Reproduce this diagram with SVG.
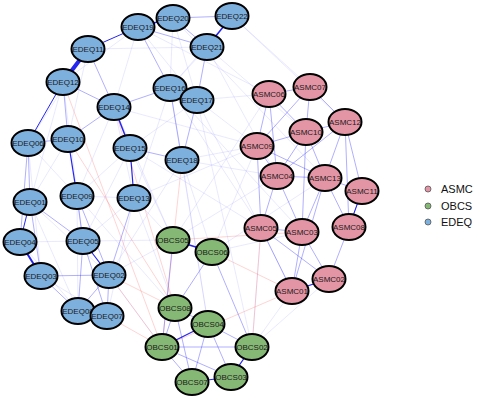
<svg xmlns="http://www.w3.org/2000/svg" width="480" height="398" viewBox="0 0 480 398">
<style>
.n ellipse{stroke:#000;stroke-width:2}
.E ellipse{fill:#7db0dd}
.O ellipse{fill:#86b875}
.A ellipse{fill:#e495a5}
.n text{font-family:"Liberation Sans",Arial,sans-serif;font-size:8px;fill:#1a1a1a;text-anchor:middle}
#edges line{stroke-linecap:round}
.s{stroke:#0000ee;stroke-opacity:.85}
.m{stroke:#3a3aff;stroke-opacity:.4;stroke-width:1}
.f{stroke:#7777ff;stroke-opacity:.18;stroke-width:.9}
.r{stroke:#ff5050;stroke-opacity:.28;stroke-width:.9}
.lg text{font-family:"Liberation Sans",Arial,sans-serif;font-size:11px;fill:#111}
.lg circle{stroke:#555;stroke-width:.8}
</style>
<rect width="480" height="398" fill="#fff"/>
<g id="edges">
<!-- faint -->
<line class="f" x1="138" y1="27" x2="269" y2="94"/>
<line class="f" x1="232" y1="16" x2="310" y2="87"/>
<line class="f" x1="197" y1="100" x2="257" y2="146"/>
<line class="f" x1="207" y1="47" x2="306" y2="132"/>
<line class="f" x1="114" y1="107" x2="173" y2="240"/>
<line class="f" x1="182" y1="160" x2="212" y2="252"/>
<line class="f" x1="134" y1="198" x2="173" y2="240"/>
<line class="f" x1="130" y1="148" x2="173" y2="240"/>
<line class="f" x1="170" y1="88" x2="261" y2="228"/>
<line class="f" x1="197" y1="100" x2="252" y2="347"/>
<line class="f" x1="182" y1="160" x2="277" y2="176"/>
<line class="f" x1="63" y1="82" x2="83" y2="241"/>
<line class="f" x1="88" y1="49" x2="68" y2="139"/>
<line class="f" x1="138" y1="27" x2="114" y2="107"/>
<line class="f" x1="138" y1="27" x2="197" y2="100"/>
<line class="f" x1="173" y1="18" x2="197" y2="100"/>
<line class="f" x1="232" y1="16" x2="170" y2="88"/>
<line class="f" x1="207" y1="47" x2="170" y2="88"/>
<line class="f" x1="114" y1="107" x2="134" y2="198"/>
<line class="f" x1="114" y1="107" x2="77" y2="196"/>
<line class="f" x1="68" y1="139" x2="30" y2="202"/>
<line class="f" x1="68" y1="139" x2="83" y2="241"/>
<line class="f" x1="130" y1="148" x2="77" y2="196"/>
<line class="f" x1="130" y1="148" x2="83" y2="241"/>
<line class="f" x1="28" y1="143" x2="77" y2="196"/>
<line class="f" x1="28" y1="143" x2="41" y2="276"/>
<line class="f" x1="77" y1="196" x2="134" y2="198"/>
<line class="f" x1="134" y1="198" x2="83" y2="241"/>
<line class="f" x1="134" y1="198" x2="107" y2="316"/>
<line class="f" x1="30" y1="202" x2="109" y2="275"/>
<line class="f" x1="20" y1="242" x2="83" y2="241"/>
<line class="f" x1="20" y1="242" x2="78" y2="311"/>
<line class="f" x1="77" y1="196" x2="78" y2="311"/>
<line class="f" x1="182" y1="160" x2="109" y2="275"/>
<line class="f" x1="170" y1="88" x2="134" y2="198"/>
<line class="f" x1="197" y1="100" x2="130" y2="148"/>
<line class="f" x1="63" y1="82" x2="30" y2="202"/>
<line class="f" x1="88" y1="49" x2="28" y2="143"/>
<line class="f" x1="182" y1="160" x2="257" y2="146"/>
<line class="f" x1="197" y1="100" x2="269" y2="94"/>
<line class="f" x1="269" y1="94" x2="173" y2="240"/>
<line class="f" x1="257" y1="146" x2="212" y2="252"/>
<line class="f" x1="261" y1="228" x2="252" y2="347"/>
<line class="f" x1="292" y1="291" x2="252" y2="347"/>
<line class="f" x1="302" y1="232" x2="212" y2="252"/>
<line class="f" x1="257" y1="146" x2="134" y2="198"/>
<line class="f" x1="207" y1="47" x2="277" y2="176"/>
<line class="f" x1="232" y1="16" x2="345" y2="122"/>
<line class="f" x1="173" y1="18" x2="325" y2="178"/>
<line class="f" x1="170" y1="88" x2="208" y2="324"/>
<line class="f" x1="197" y1="100" x2="292" y2="291"/>
<line class="f" x1="109" y1="275" x2="173" y2="240"/>
<line class="f" x1="83" y1="241" x2="173" y2="240"/>
<line class="f" x1="134" y1="198" x2="175" y2="308"/>
<line class="f" x1="138" y1="27" x2="63" y2="82"/>
<line class="f" x1="173" y1="18" x2="170" y2="88"/>
<line class="f" x1="77" y1="196" x2="175" y2="308"/>
<line class="f" x1="130" y1="148" x2="261" y2="228"/>
<line class="f" x1="114" y1="107" x2="257" y2="146"/>
<line class="f" x1="88" y1="49" x2="207" y2="47"/>
<line class="f" x1="170" y1="88" x2="302" y2="232"/>
<line class="f" x1="212" y1="252" x2="325" y2="178"/>
<line class="f" x1="173" y1="240" x2="277" y2="176"/>
<line class="f" x1="252" y1="347" x2="329" y2="279"/>
<line class="f" x1="41" y1="276" x2="107" y2="316"/>
<line class="f" x1="30" y1="202" x2="78" y2="311"/>
<line class="f" x1="109" y1="275" x2="162" y2="347"/>
<line class="f" x1="182" y1="160" x2="208" y2="324"/>
<!-- red -->
<line class="r" x1="109" y1="275" x2="162" y2="347"/>
<line class="r" x1="109" y1="275" x2="175" y2="308"/>
<line class="r" x1="63" y1="82" x2="162" y2="347"/>
<line class="r" x1="114" y1="107" x2="175" y2="308"/>
<line class="r" x1="182" y1="160" x2="162" y2="347"/>
<line class="r" x1="212" y1="252" x2="292" y2="291"/>
<line class="r" x1="252" y1="347" x2="261" y2="228"/>
<line class="r" x1="107" y1="316" x2="162" y2="347"/>
<line class="r" x1="162" y1="347" x2="292" y2="291"/>
<line class="r" x1="68" y1="139" x2="175" y2="308"/>
<line class="r" x1="173" y1="240" x2="302" y2="232"/>
<!-- medium -->
<line class="m" x1="173" y1="18" x2="207" y2="47"/>
<line class="m" x1="173" y1="18" x2="232" y2="16"/>
<line class="m" x1="138" y1="27" x2="207" y2="47"/>
<line class="m" x1="63" y1="82" x2="68" y2="139"/>
<line class="m" x1="63" y1="82" x2="114" y2="107"/>
<line class="m" x1="138" y1="27" x2="170" y2="88"/>
<line class="m" x1="207" y1="47" x2="197" y2="100"/>
<line class="m" x1="170" y1="88" x2="182" y2="160"/>
<line class="m" x1="197" y1="100" x2="182" y2="160"/>
<line class="m" x1="130" y1="148" x2="182" y2="160"/>
<line class="m" x1="28" y1="143" x2="30" y2="202"/>
<line class="m" x1="28" y1="143" x2="20" y2="242"/>
<line class="m" x1="68" y1="139" x2="28" y2="143"/>
<line class="m" x1="77" y1="196" x2="83" y2="241"/>
<line class="m" x1="30" y1="202" x2="41" y2="276"/>
<line class="m" x1="30" y1="202" x2="83" y2="241"/>
<line class="m" x1="41" y1="276" x2="109" y2="275"/>
<line class="m" x1="41" y1="276" x2="78" y2="311"/>
<line class="m" x1="83" y1="241" x2="107" y2="316"/>
<line class="m" x1="83" y1="241" x2="78" y2="311"/>
<line class="m" x1="109" y1="275" x2="107" y2="316"/>
<line class="m" x1="109" y1="275" x2="78" y2="311"/>
<line class="m" x1="134" y1="198" x2="109" y2="275"/>
<line class="m" x1="77" y1="196" x2="109" y2="275"/>
<line class="m" x1="114" y1="107" x2="68" y2="139"/>
<line class="m" x1="170" y1="88" x2="114" y2="107"/>
<line class="m" x1="88" y1="49" x2="114" y2="107"/>
<line class="m" x1="170" y1="88" x2="197" y2="100"/>
<line class="m" x1="78" y1="311" x2="107" y2="316"/>
<line class="m" x1="175" y1="308" x2="162" y2="347"/>
<line class="m" x1="175" y1="308" x2="208" y2="324"/>
<line class="m" x1="212" y1="252" x2="175" y2="308"/>
<line class="m" x1="208" y1="324" x2="252" y2="347"/>
<line class="m" x1="162" y1="347" x2="252" y2="347"/>
<line class="m" x1="175" y1="308" x2="192" y2="382"/>
<line class="m" x1="208" y1="324" x2="192" y2="382"/>
<line class="m" x1="208" y1="324" x2="231" y2="377"/>
<line class="m" x1="212" y1="252" x2="252" y2="347"/>
<line class="m" x1="173" y1="240" x2="162" y2="347"/>
<line class="m" x1="162" y1="347" x2="192" y2="382"/>
<line class="m" x1="162" y1="347" x2="231" y2="377"/>
<line class="m" x1="269" y1="94" x2="310" y2="87"/>
<line class="m" x1="269" y1="94" x2="306" y2="132"/>
<line class="m" x1="310" y1="87" x2="306" y2="132"/>
<line class="m" x1="306" y1="132" x2="345" y2="122"/>
<line class="m" x1="257" y1="146" x2="306" y2="132"/>
<line class="m" x1="257" y1="146" x2="269" y2="94"/>
<line class="m" x1="257" y1="146" x2="277" y2="176"/>
<line class="m" x1="257" y1="146" x2="261" y2="228"/>
<line class="m" x1="306" y1="132" x2="325" y2="178"/>
<line class="m" x1="345" y1="122" x2="325" y2="178"/>
<line class="m" x1="345" y1="122" x2="362" y2="191"/>
<line class="m" x1="325" y1="178" x2="362" y2="191"/>
<line class="m" x1="362" y1="191" x2="349" y2="227"/>
<line class="m" x1="325" y1="178" x2="349" y2="227"/>
<line class="m" x1="277" y1="176" x2="302" y2="232"/>
<line class="m" x1="277" y1="176" x2="261" y2="228"/>
<line class="m" x1="277" y1="176" x2="325" y2="178"/>
<line class="m" x1="261" y1="228" x2="302" y2="232"/>
<line class="m" x1="261" y1="228" x2="292" y2="291"/>
<line class="m" x1="302" y1="232" x2="292" y2="291"/>
<line class="m" x1="292" y1="291" x2="329" y2="279"/>
<line class="m" x1="349" y1="227" x2="329" y2="279"/>
<line class="m" x1="302" y1="232" x2="329" y2="279"/>
<line class="m" x1="261" y1="228" x2="329" y2="279"/>
<line class="m" x1="325" y1="178" x2="302" y2="232"/>
<line class="m" x1="269" y1="94" x2="277" y2="176"/>
<line class="m" x1="310" y1="87" x2="345" y2="122"/>
<line class="m" x1="306" y1="132" x2="277" y2="176"/>
<line class="m" x1="345" y1="122" x2="277" y2="176"/>
<line class="m" x1="257" y1="146" x2="325" y2="178"/>
<line class="m" x1="345" y1="122" x2="349" y2="227"/>
<line class="m" x1="325" y1="178" x2="292" y2="291"/>
<line class="m" x1="310" y1="87" x2="257" y2="146"/>
<line class="m" x1="306" y1="132" x2="302" y2="232"/>
<!-- strong -->
<line class="s" x1="88" y1="49" x2="63" y2="82" stroke-width="4"/>
<line class="s" x1="20" y1="242" x2="41" y2="276" stroke-width="2" stroke-opacity=".8"/>
<line class="s" x1="207" y1="47" x2="232" y2="16" stroke-width="1.5" stroke-opacity=".7"/>
<line class="s" x1="138" y1="27" x2="173" y2="18" stroke-width="1.6" stroke-opacity=".75"/>
<line class="s" x1="114" y1="107" x2="130" y2="148" stroke-width="1.5" stroke-opacity=".6"/>
<line class="s" x1="130" y1="148" x2="134" y2="198" stroke-width="1.2" stroke-opacity=".55"/>
<line class="s" x1="68" y1="139" x2="77" y2="196" stroke-width="1.2" stroke-opacity=".55"/>
<line class="s" x1="173" y1="240" x2="212" y2="252" stroke-width="1.6" stroke-opacity=".75"/>
<line class="s" x1="208" y1="324" x2="162" y2="347" stroke-width="1.3" stroke-opacity=".6"/>
<line class="s" x1="252" y1="347" x2="231" y2="377" stroke-width="1.3" stroke-opacity=".6"/>
<line class="s" x1="231" y1="377" x2="192" y2="382" stroke-width="1.2" stroke-opacity=".55"/>
<line class="s" x1="83" y1="241" x2="109" y2="275" stroke-width="1.2" stroke-opacity=".55"/>
<line class="s" x1="30" y1="202" x2="20" y2="242" stroke-width="1" stroke-opacity=".5"/>
<line class="s" x1="63" y1="82" x2="28" y2="143" stroke-width="1" stroke-opacity=".5"/>
<line class="s" x1="138" y1="27" x2="88" y2="49" stroke-width="1" stroke-opacity=".4"/>
<line class="s" x1="292" y1="291" x2="329" y2="279" stroke-width="1" stroke-opacity=".5"/>
<line class="s" x1="362" y1="191" x2="349" y2="227" stroke-width="1" stroke-opacity=".5"/>
</g>
<g id="EDEQ19" class="n E"><ellipse cx="138" cy="27" rx="16.5" ry="13"/><text x="138" y="27" dy=".35em">EDEQ19</text></g>
<g id="EDEQ20" class="n E"><ellipse cx="173" cy="18" rx="16.5" ry="13"/><text x="173" y="18" dy=".35em">EDEQ20</text></g>
<g id="EDEQ22" class="n E"><ellipse cx="232" cy="16" rx="16.5" ry="13"/><text x="232" y="16" dy=".35em">EDEQ22</text></g>
<g id="EDEQ21" class="n E"><ellipse cx="207" cy="47" rx="16.5" ry="13"/><text x="207" y="47" dy=".35em">EDEQ21</text></g>
<g id="EDEQ11" class="n E"><ellipse cx="88" cy="49" rx="16.5" ry="13"/><text x="88" y="49" dy=".35em">EDEQ11</text></g>
<g id="EDEQ12" class="n E"><ellipse cx="63" cy="82" rx="16.5" ry="13"/><text x="63" y="82" dy=".35em">EDEQ12</text></g>
<g id="EDEQ16" class="n E"><ellipse cx="170" cy="88" rx="16.5" ry="13"/><text x="170" y="88" dy=".35em">EDEQ16</text></g>
<g id="EDEQ17" class="n E"><ellipse cx="197" cy="100" rx="16.5" ry="13"/><text x="197" y="100" dy=".35em">EDEQ17</text></g>
<g id="EDEQ14" class="n E"><ellipse cx="114" cy="107" rx="16.5" ry="13"/><text x="114" y="107" dy=".35em">EDEQ14</text></g>
<g id="EDEQ06" class="n E"><ellipse cx="28" cy="143" rx="16.5" ry="13"/><text x="28" y="143" dy=".35em">EDEQ06</text></g>
<g id="EDEQ10" class="n E"><ellipse cx="68" cy="139" rx="16.5" ry="13"/><text x="68" y="139" dy=".35em">EDEQ10</text></g>
<g id="EDEQ15" class="n E"><ellipse cx="130" cy="148" rx="16.5" ry="13"/><text x="130" y="148" dy=".35em">EDEQ15</text></g>
<g id="EDEQ18" class="n E"><ellipse cx="182" cy="160" rx="16.5" ry="13"/><text x="182" y="160" dy=".35em">EDEQ18</text></g>
<g id="EDEQ01" class="n E"><ellipse cx="30" cy="202" rx="16.5" ry="13"/><text x="30" y="202" dy=".35em">EDEQ01</text></g>
<g id="EDEQ09" class="n E"><ellipse cx="77" cy="196" rx="16.5" ry="13"/><text x="77" y="196" dy=".35em">EDEQ09</text></g>
<g id="EDEQ13" class="n E"><ellipse cx="134" cy="198" rx="16.5" ry="13"/><text x="134" y="198" dy=".35em">EDEQ13</text></g>
<g id="EDEQ04" class="n E"><ellipse cx="20" cy="242" rx="16.5" ry="13"/><text x="20" y="242" dy=".35em">EDEQ04</text></g>
<g id="EDEQ05" class="n E"><ellipse cx="83" cy="241" rx="16.5" ry="13"/><text x="83" y="241" dy=".35em">EDEQ05</text></g>
<g id="EDEQ03" class="n E"><ellipse cx="41" cy="276" rx="16.5" ry="13"/><text x="41" y="276" dy=".35em">EDEQ03</text></g>
<g id="EDEQ02" class="n E"><ellipse cx="109" cy="275" rx="16.5" ry="13"/><text x="109" y="275" dy=".35em">EDEQ02</text></g>
<g id="EDEQ08" class="n E"><ellipse cx="78" cy="311" rx="16.5" ry="13"/><text x="78" y="311" dy=".35em">EDEQ08</text></g>
<g id="EDEQ07" class="n E"><ellipse cx="107" cy="316" rx="16.5" ry="13"/><text x="107" y="316" dy=".35em">EDEQ07</text></g>
<g id="OBCS05" class="n O"><ellipse cx="173" cy="240" rx="16.5" ry="13"/><text x="173" y="240" dy=".35em">OBCS05</text></g>
<g id="OBCS06" class="n O"><ellipse cx="212" cy="252" rx="16.5" ry="13"/><text x="212" y="252" dy=".35em">OBCS06</text></g>
<g id="OBCS08" class="n O"><ellipse cx="175" cy="308" rx="16.5" ry="13"/><text x="175" y="308" dy=".35em">OBCS08</text></g>
<g id="OBCS04" class="n O"><ellipse cx="208" cy="324" rx="16.5" ry="13"/><text x="208" y="324" dy=".35em">OBCS04</text></g>
<g id="OBCS01" class="n O"><ellipse cx="162" cy="347" rx="16.5" ry="13"/><text x="162" y="347" dy=".35em">OBCS01</text></g>
<g id="OBCS02" class="n O"><ellipse cx="252" cy="347" rx="16.5" ry="13"/><text x="252" y="347" dy=".35em">OBCS02</text></g>
<g id="OBCS07" class="n O"><ellipse cx="192" cy="382" rx="16.5" ry="13"/><text x="192" y="382" dy=".35em">OBCS07</text></g>
<g id="OBCS03" class="n O"><ellipse cx="231" cy="377" rx="16.5" ry="13"/><text x="231" y="377" dy=".35em">OBCS03</text></g>
<g id="ASMC06" class="n A"><ellipse cx="269" cy="94" rx="16.5" ry="13"/><text x="269" y="94" dy=".35em">ASMC06</text></g>
<g id="ASMC07" class="n A"><ellipse cx="310" cy="87" rx="16.5" ry="13"/><text x="310" y="87" dy=".35em">ASMC07</text></g>
<g id="ASMC10" class="n A"><ellipse cx="306" cy="132" rx="16.5" ry="13"/><text x="306" y="132" dy=".35em">ASMC10</text></g>
<g id="ASMC12" class="n A"><ellipse cx="345" cy="122" rx="16.5" ry="13"/><text x="345" y="122" dy=".35em">ASMC12</text></g>
<g id="ASMC09" class="n A"><ellipse cx="257" cy="146" rx="16.5" ry="13"/><text x="257" y="146" dy=".35em">ASMC09</text></g>
<g id="ASMC04" class="n A"><ellipse cx="277" cy="176" rx="16.5" ry="13"/><text x="277" y="176" dy=".35em">ASMC04</text></g>
<g id="ASMC13" class="n A"><ellipse cx="325" cy="178" rx="16.5" ry="13"/><text x="325" y="178" dy=".35em">ASMC13</text></g>
<g id="ASMC11" class="n A"><ellipse cx="362" cy="191" rx="16.5" ry="13"/><text x="362" y="191" dy=".35em">ASMC11</text></g>
<g id="ASMC05" class="n A"><ellipse cx="261" cy="228" rx="16.5" ry="13"/><text x="261" y="228" dy=".35em">ASMC05</text></g>
<g id="ASMC03" class="n A"><ellipse cx="302" cy="232" rx="16.5" ry="13"/><text x="302" y="232" dy=".35em">ASMC03</text></g>
<g id="ASMC08" class="n A"><ellipse cx="349" cy="227" rx="16.5" ry="13"/><text x="349" y="227" dy=".35em">ASMC08</text></g>
<g id="ASMC02" class="n A"><ellipse cx="329" cy="279" rx="16.5" ry="13"/><text x="329" y="279" dy=".35em">ASMC02</text></g>
<g id="ASMC01" class="n A"><ellipse cx="292" cy="291" rx="16.5" ry="13"/><text x="292" y="291" dy=".35em">ASMC01</text></g>
<g id="legend" class="lg">
<circle cx="428" cy="189" r="3" fill="#e495a5"/><text x="441" y="193">ASMC</text>
<circle cx="428" cy="206" r="3" fill="#86b875"/><text x="441" y="210">OBCS</text>
<circle cx="428" cy="222" r="3" fill="#7db0dd"/><text x="441" y="226">EDEQ</text>
</g>
</svg>
